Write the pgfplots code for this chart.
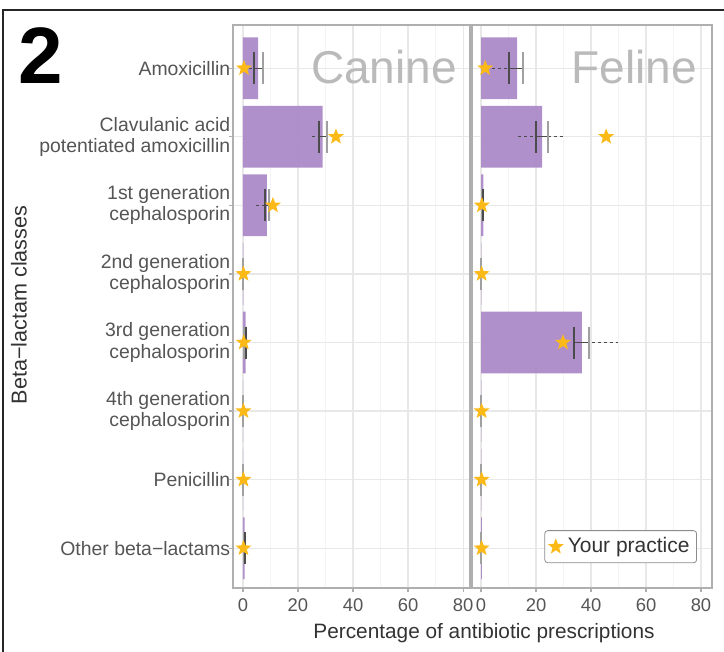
\documentclass[border=0pt]{standalone}
\usepackage{pgfplots}
\pgfplotsset{compat=1.18}
\usepackage{fontspec}
\setmainfont{Liberation Sans}
\definecolor{barpurple}{RGB}{172,138,200}
\definecolor{starc}{RGB}{252,186,24}
\definecolor{txtgray}{RGB}{85,85,85}
\definecolor{panelgray}{RGB}{175,175,175}
\definecolor{gridmaj}{RGB}{232,232,232}
\definecolor{gridmin}{RGB}{244,244,244}
\definecolor{darkmark}{RGB}{75,75,75}
\definecolor{lightmark}{RGB}{160,160,160}

\pgfdeclareplotmark{fstar}{%
  \pgfpathmoveto{\pgfpointpolar{90}{\pgfplotmarksize}}%
  \pgfpathlineto{\pgfpointpolar{126}{0.42\pgfplotmarksize}}%
  \pgfpathlineto{\pgfpointpolar{162}{\pgfplotmarksize}}%
  \pgfpathlineto{\pgfpointpolar{198}{0.42\pgfplotmarksize}}%
  \pgfpathlineto{\pgfpointpolar{234}{\pgfplotmarksize}}%
  \pgfpathlineto{\pgfpointpolar{270}{0.42\pgfplotmarksize}}%
  \pgfpathlineto{\pgfpointpolar{306}{\pgfplotmarksize}}%
  \pgfpathlineto{\pgfpointpolar{342}{0.42\pgfplotmarksize}}%
  \pgfpathlineto{\pgfpointpolar{18}{\pgfplotmarksize}}%
  \pgfpathlineto{\pgfpointpolar{54}{0.42\pgfplotmarksize}}%
  \pgfpathclose\pgfusepathqfill}

\def\px{0.5pt}

\pgfplotsset{panel/.style={
  scale only axis, height=281.5pt,
  y dir=reverse, ymin=0.37, ymax=8.58,
  ytick={1,...,8},
  xtick={0,20,40,60,80}, minor xtick={10,30,50,70},
  xmajorgrids, xminorgrids, ymajorgrids,
  major grid style={gridmaj, line width=0.6pt},
  minor grid style={gridmin, line width=0.4pt},
  axis line style={panelgray, line width=0.6pt},
  tick style={panelgray, line width=0.6pt},
  major tick length=2pt, minor tick length=0pt,
  tick align=outside, xtick pos=bottom, ytick pos=left,
  xticklabel style={font=\fontsize{9.2}{10}\selectfont, text=txtgray},
  /pgf/number format/assume math mode=true,
  anchor=north west,
}}

\begin{document}
\begin{tikzpicture}
\useasboundingbox (0,0) rectangle (724*\px,-652*\px);
\draw[line width=1pt, black!85] (3*\px,-660*\px) -- (3*\px,-10*\px) -- (730*\px,-10*\px);
\node[anchor=base west, font=\fontsize{40}{40}\selectfont\bfseries] at (11*\px,-84*\px) {2};

% Canine
\begin{axis}[panel, at={(233*\px,-25*\px)}, width=118.5pt, xmin=-3.6, xmax=82.5,
  yticklabels={Amoxicillin,{Clavulanic acid\\potentiated amoxicillin},{1st generation\\cephalosporin},{2nd generation\\cephalosporin},{3rd generation\\cephalosporin},{4th generation\\cephalosporin},Penicillin,Other beta−lactams},
  yticklabel style={align=right, font=\fontsize{9.7}{10.6}\selectfont, text=txtgray, inner xsep=1pt, xshift=1.8pt},
]
\addplot[xbar, bar shift=0pt, bar width=0.9, fill=barpurple, draw=none, fill opacity=0.95]
  coordinates {(5.5,1) (29.0,2) (8.7,3) (0.2,4) (1.0,5) (0.1,6) (0.1,7) (0.6,8)};
\addplot[darkmark, line width=0.6pt, dash pattern=on 1.5pt off 1.5pt] coordinates {(0,1) (7.3,1)};
\addplot[darkmark, line width=0.6pt, dash pattern=on 1.5pt off 1.5pt] coordinates {(25.0,2) (30.5,2)};
\addplot[darkmark, line width=0.6pt, dash pattern=on 1.5pt off 1.5pt] coordinates {(4.7,3) (9.5,3)};
\addplot[darkmark, line width=0.7pt] coordinates {(4.0,1) (7.3,1)};
\addplot[darkmark, line width=0.7pt] coordinates {(27.6,2) (30.5,2)};
\addplot[darkmark, line width=0.7pt] coordinates {(8.0,3) (9.5,3)};
\addplot[only marks, mark=|, mark size=8pt, mark options={lightmark, line width=1.1pt}]
  coordinates {(7.3,1) (30.5,2) (9.5,3) (0.1,4) (0.6,5) (0.1,6) (0.1,7) (0.5,8)};
\addplot[only marks, mark=|, mark size=8pt, mark options={darkmark, line width=1.1pt}]
  coordinates {(4.0,1) (27.6,2) (8.0,3) (1.0,5) (0.8,8)};
\addplot[only marks, mark=fstar, mark size=4.2pt, mark options={fill=starc}]
  coordinates {(0.4,1) (33.8,2) (10.9,3) (0.2,4) (0.3,5) (0.2,6) (0.2,7) (0.2,8)};
\node[anchor=east, font=\fontsize{23}{25}\selectfont, text=black!27] at (axis cs:80.3,0.98) {Canine};
\end{axis}

% Feline
\begin{axis}[panel, at={(472*\px,-25*\px)}, width=120pt, xmin=-3.3, xmax=84,
  yticklabels={}, ytick style={draw=none},
  legend style={at={(0.9375,0.044)}, anchor=south east, draw=black!45, rounded corners=1.5pt,
    font=\fontsize{10.5}{12}\selectfont, text=black!80, inner sep=1.5pt},
  legend cell align=left,
]
\addplot[forget plot, xbar, bar shift=0pt, bar width=0.9, fill=barpurple, draw=none, fill opacity=0.95]
  coordinates {(13.1,1) (22.2,2) (0.8,3) (0.1,4) (36.7,5) (0.1,6) (0.1,7) (0.3,8)};
\addplot[forget plot, darkmark, line width=0.6pt, dash pattern=on 1.5pt off 1.5pt] coordinates {(4.0,1) (15.3,1)};
\addplot[forget plot, darkmark, line width=0.6pt, dash pattern=on 1.5pt off 1.5pt] coordinates {(13.5,2) (30.5,2)};
\addplot[forget plot, darkmark, line width=0.6pt, dash pattern=on 1.5pt off 1.5pt] coordinates {(33.8,5) (49.8,5)};
\addplot[forget plot, darkmark, line width=0.7pt] coordinates {(10.2,1) (15.3,1)};
\addplot[forget plot, darkmark, line width=0.7pt] coordinates {(20.0,2) (24.4,2)};
\addplot[forget plot, darkmark, line width=0.7pt] coordinates {(33.8,5) (39.3,5)};
\addplot[forget plot, only marks, mark=|, mark size=8pt, mark options={lightmark, line width=1.1pt}]
  coordinates {(15.3,1) (24.4,2) (0.3,3) (0.1,4) (39.3,5) (0.1,6) (0.1,7) (0.1,8)};
\addplot[forget plot, only marks, mark=|, mark size=8pt, mark options={darkmark, line width=1.1pt}]
  coordinates {(10.2,1) (20.0,2) (0.7,3) (33.8,5)};
\addplot[only marks, mark=fstar, mark size=4.2pt, mark options={fill=starc}]
  coordinates {(1.5,1) (45.5,2) (0.3,3) (0.2,4) (29.8,5) (0.2,6) (0.2,7) (0.2,8)};
\addlegendentry{Your practice}
\node[anchor=east, font=\fontsize{23}{25}\selectfont, text=black!27] at (axis cs:81,0.98) {Feline};
\end{axis}

\node[rotate=90, font=\fontsize{10.8}{12}\selectfont, text=black!80] at (19*\px,-305*\px) {Beta−lactam classes};
\node[font=\fontsize{10.4}{12}\selectfont, text=black!80] at (484*\px,-633*\px) {Percentage of antibiotic prescriptions};
\end{tikzpicture}
\end{document}
